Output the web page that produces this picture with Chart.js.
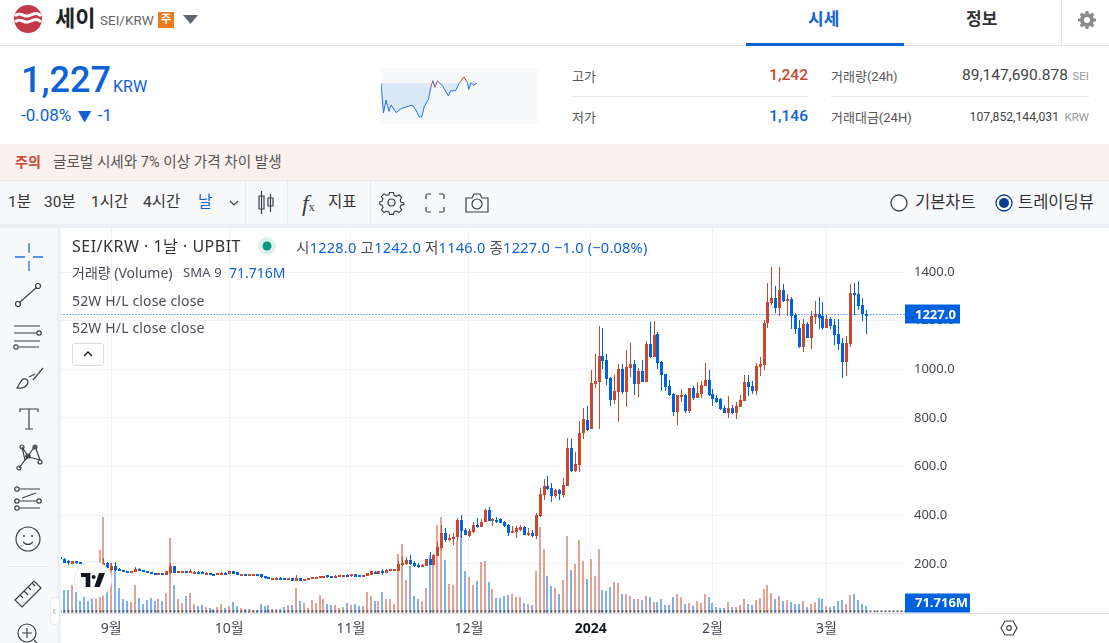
<!DOCTYPE html>
<html lang="ko">
<head>
<meta charset="utf-8">
<title>세이 SEI/KRW</title>
<script src="https://cdn.jsdelivr.net/npm/chart.js@4"></script>
<style>
    html, body { margin: 0; padding: 0; background: #fff; overflow: hidden; }
    body { width: 1109px; height: 643px; position: relative; font-family: Roboto, "Noto Sans CJK KR", sans-serif; color: #333; }
    .abs { position: absolute; white-space: nowrap; line-height: 1; }
    .band { position: absolute; }
    .mid { transform: translateY(-50%); }
    .blue { color: #0f62d6; }
    .red { color: #c8472f; }
    .grey { color: #999; }
    .tv { font-family: "Noto Sans", "Noto Sans CJK KR", sans-serif; color: #4a4d57; font-size: 14px; letter-spacing: 0.15px; }
    svg { position: absolute; overflow: visible; }
    svg .s { fill: none; stroke: #3a3f4a; stroke-width: 1.2; }
    canvas { position: absolute; }
</style>
</head>
<body>

<!-- header -->
<div class="band" style="left:0;top:45px;width:1109px;height:1px;background:#e2e4e8"></div>
<svg style="left:14px;top:5px" width="28" height="28" viewBox="0 0 28 28">
    <circle cx="14" cy="14" r="14" fill="#c2394a"/>
    <path d="M1 11c5-5 8 1 13 0s8-5 13 0M1 17c5-5 8 1 13 0s8-5 13 0" fill="none" stroke="#fff" stroke-width="3"/>
</svg>
<div class="abs mid" style="left:55px;top:19px;font-size:22px;font-weight:700;color:#222">세이</div>
<div class="abs mid" style="left:100px;top:21px;font-size:13.5px;color:#666">SEI/KRW</div>
<div class="abs" style="left:158px;top:12px;width:16px;height:16px;background:#ee7a1c;color:#fff;font-size:11px;line-height:16px;text-align:center;font-weight:700">주</div>
<svg style="left:183px;top:15px" width="16" height="10"><path d="M0 0H15L7.500 9Z" fill="#5f6470"/></svg>
<div class="abs mid blue" style="left:808px;top:19px;font-size:17px;font-weight:700">시세</div>
<div class="band" style="left:746px;top:43px;width:158px;height:3px;background:#0f62d6"></div>
<div class="abs mid" style="left:966px;top:19px;font-size:17px;font-weight:700;color:#333">정보</div>
<div class="band" style="left:1061px;top:0;width:1px;height:45px;background:#e2e4e8"></div>
<svg style="left:1078px;top:11px" width="18" height="18" viewBox="0 0 18 18">
    <circle cx="9" cy="9" r="5" fill="none" stroke="#8b8b8b" stroke-width="4"/>
    <path d="M9 0v4M9 14v4M0 9h4M14 9h4M2.600 2.600l3 3M12.400 12.400l3 3M15.400 2.600l-3 3M5.600 12.400l-3 3" stroke="#8b8b8b" stroke-width="3"/>
</svg>

<!-- price summary -->
<div class="abs mid blue" style="left:21px;top:80px;font-size:36px;font-weight:500">1,227</div>
<div class="abs mid blue" style="left:113px;top:87px;font-size:16px">KRW</div>
<div class="abs mid blue" style="left:21px;top:115px;font-size:17px;word-spacing:2px">-0.08% <span style="font-size:14px">▼</span> -1</div>

<div class="band" style="left:381px;top:68px;width:157px;height:56px;background:#f8f9fb"></div>
<canvas id="sparkChart" style="left:381px;top:68px" width="157" height="56"></canvas>

<div class="abs mid" style="left:572px;top:76px;font-size:13px;color:#555">고가</div>
<div class="abs mid red" style="right:301px;top:76px;font-size:15.5px;font-weight:500">1,242</div>
<div class="band" style="left:572px;top:96px;width:236px;height:1px;background:#e4e6ee"></div>
<div class="abs mid" style="left:572px;top:117px;font-size:13px;color:#555">저가</div>
<div class="abs mid blue" style="right:301px;top:117px;font-size:15.5px;font-weight:500">1,146</div>
<div class="abs mid" style="left:831px;top:76px;font-size:13px;color:#555">거래량(24h)</div>
<div class="abs mid" style="right:41px;top:76px;font-size:15.5px;color:#444">89,147,690.878</div>
<div class="abs mid grey" style="right:20px;top:77px;font-size:11.500px">SEI</div>
<div class="band" style="left:831px;top:96px;width:258px;height:1px;background:#e4e6ee"></div>
<div class="abs mid" style="left:831px;top:117px;font-size:13px;color:#555">거래대금(24H)</div>
<div class="abs mid" style="right:50px;top:117px;font-size:12.200px;color:#444">107,852,144,031</div>
<div class="abs mid grey" style="right:20px;top:118px;font-size:11.500px">KRW</div>

<!-- warning band -->
<div class="band" style="left:0;top:144px;width:1109px;height:36px;background:#faf0ee"></div>
<div class="abs mid red" style="left:15px;top:162px;font-size:14px;font-weight:700">주의</div>
<div class="abs mid" style="left:53px;top:162px;font-size:14.600px;color:#555">글로벌 시세와 7% 이상 가격 차이 발생</div>

<!-- toolbar -->
<div class="band" style="left:0;top:180px;width:1109px;height:44px;background:#f8f9fb;border-top:1px solid #e2e4e8;box-sizing:border-box"></div>
<div class="abs mid" style="left:8px;top:203px;font-size:15.500px">1분</div>
<div class="abs mid" style="left:44px;top:203px;font-size:15.500px">30분</div>
<div class="abs mid" style="left:91px;top:203px;font-size:15.500px">1시간</div>
<div class="abs mid" style="left:143px;top:203px;font-size:15.500px">4시간</div>
<div class="abs mid blue" style="left:198px;top:203px;font-size:15.500px">날</div>
<svg style="left:229px;top:200px" width="10" height="6"><path class="s" d="M1 1l4 4 4-4"/></svg>
<div class="band" style="left:245px;top:181px;width:1px;height:43px;background:#e8eaee"></div>
<svg style="left:258px;top:191px" width="16" height="24">
    <path class="s" d="M3.500 0v23M3.500 5h-2.500v13h5v-13zM12.500 3v18M12.500 7h-2.500v8h5v-8z" style="fill:#f8f9fb"/>
</svg>
<div class="band" style="left:287px;top:181px;width:1px;height:43px;background:#e8eaee"></div>
<div class="abs mid" style="left:302px;top:203px;font-size:24px;font-family:'Liberation Serif',serif;font-style:italic;color:#3a3f4a">f<span style="font-size:12px;font-style:normal">x</span></div>
<div class="abs mid" style="left:328px;top:203px;font-size:15.500px">지표</div>
<div class="band" style="left:370px;top:181px;width:1px;height:43px;background:#e8eaee"></div>
<svg style="left:380px;top:191px" width="23" height="23" viewBox="0 0 23 23">
    <circle class="s" cx="11.500" cy="11.500" r="3.500"/>
    <path class="s" d="M9.500 1h4l.7 3 2.400 1 2.700-1.600 2.800 2.800-1.600 2.700 1 2.400 3 .7v1.500l-3 .7-1 2.400 1.600 2.700-2.800 2.800-2.700-1.600-2.400 1-.7 2.400h-4l-.7-2.400-2.400-1-2.700 1.600-2.800-2.800 1.600-2.700-1-2.400-2.400-.7v-2.500l2.400-.7 1-2.400-1.600-2.700 2.800-2.800 2.700 1.600 2.400-1z" transform="translate(0.600 0.600) scale(0.95)"/>
</svg>
<svg style="left:426px;top:194px" width="18" height="18"><path class="s" d="M0 5V1.500Q0 0 1.500 0H5M13 0h3.500Q18 0 18 1.500V5M18 13v3.500Q18 18 16.500 18H13M5 18H1.500Q0 18 0 16.500V13"/></svg>
<svg style="left:465px;top:193px" width="24" height="20"><path class="s" d="M1 5h6l2-4h6l2 4h6v14h-22z"/><circle class="s" cx="12" cy="11" r="5"/></svg>
<svg style="left:890px;top:194px" width="18" height="18"><circle cx="9" cy="9" r="8" fill="#fff" stroke="#3a3f4a" stroke-width="1.300"/></svg>
<div class="abs mid" style="left:915px;top:203px;font-size:16.500px">기본차트</div>
<svg style="left:995px;top:194px" width="18" height="18"><circle cx="9" cy="9" r="8" fill="#fff" stroke="#0a3a94" stroke-width="1.300"/><circle cx="9" cy="9" r="5" fill="#0a3a94"/></svg>
<div class="abs mid" style="left:1018px;top:203px;font-size:16.500px">트레이딩뷰</div>
<div class="band" style="left:0;top:224px;width:1109px;height:4px;background:#eceff4"></div>

<!-- drawing tools on the left -->
<div class="band" style="left:0;top:228px;width:57px;height:415px;background:#f8f9fb"></div>
<div class="band" style="left:57px;top:228px;width:4px;height:415px;background:#eceff4"></div>
<svg style="left:15px;top:243px" width="28" height="28"><path d="M14 0v10M14 18v10M0 14h10M18 14h10" stroke="#1a73e8" stroke-width="1.300"/></svg>
<svg style="left:14px;top:282px" width="28" height="26"><path class="s" d="M5 21L23 5"/><circle class="s" cx="4" cy="22" r="2.500"/><circle class="s" cx="24" cy="4" r="2.500"/></svg>
<svg style="left:13px;top:325px" width="30" height="24"><path class="s" d="M1 1h26M1 8h22M1 16h26M6 22h20"/><circle class="s" cx="26" cy="8" r="2.200"/><circle class="s" cx="3" cy="22" r="2.200"/></svg>
<svg style="left:15px;top:366px" width="30" height="24"><path class="s" d="M2 22c6 1 11-2 11-6 0-3-4-4-6-2-2 2-3 5-5 8zM14 11l6-3M18 14l10-12"/></svg>
<svg style="left:19px;top:408px" width="20" height="22"><path class="s" d="M1 4V1h18v3M10 1v20M6 21h8"/></svg>
<svg style="left:16px;top:444px" width="26" height="27"><path class="s" d="M6 3l3 13-6 8M6 3l6 9 7-10 5 14-15-4M9 16l5-5"/><circle class="s" cx="6" cy="3" r="2"/><circle class="s" cx="19" cy="3" r="2"/><circle class="s" cx="12" cy="12" r="2"/><circle class="s" cx="3" cy="24" r="2"/><circle class="s" cx="24" cy="18" r="2"/></svg>
<svg style="left:14px;top:487px" width="28" height="24"><path class="s" d="M6 2h20M6 14h16M6 21h20M8 11l14-5" /><circle class="s" cx="3" cy="2" r="2.200"/><circle class="s" cx="3" cy="14" r="2.200"/><circle class="s" cx="25" cy="14" r="2.200"/><circle class="s" cx="3" cy="21" r="2.200"/></svg>
<svg style="left:15px;top:526px" width="26" height="26"><circle class="s" cx="13" cy="13" r="12"/><circle cx="9" cy="10" r="1" fill="#3a3f4a"/><circle cx="17" cy="10" r="1" fill="#3a3f4a"/><path class="s" d="M8 16q5 5 10 0"/></svg>
<div class="band" style="left:8px;top:566px;width:40px;height:1px;background:#e4e6ea"></div>
<svg style="left:14px;top:580px" width="28" height="28"><path class="s" d="M1 20L20 1l7 7-19 19zM6 15l3 3M10 11l4 4M14 7l3 3M18 3l3 3"/></svg>
<svg style="left:17px;top:623px" width="26" height="26"><circle class="s" cx="10" cy="10" r="9"/><path class="s" d="M10 5v10M5 10h10M17 17l7 7"/></svg>

<!-- chart -->
<canvas id="priceChart" style="left:61px;top:228px" width="1048" height="415"></canvas>
<div class="band" style="left:61px;top:613px;width:1048px;height:1px;background:#e0e3eb"></div>
<svg style="left:1001px;top:620px" width="16" height="16"><path class="s" d="M4 1h8l4 7-4 7h-8l-4-7z"/><circle class="s" cx="8" cy="8" r="2.300"/></svg>
<div class="band" style="left:50px;top:597px;width:10px;height:28px;background:#fff;border:1px solid #e8eaee;border-radius:4px;box-sizing:border-box"></div>
<div class="abs mid" style="left:52px;top:611px;font-size:12px;color:#9aa">‹</div>

<!-- chart legend -->
<div class="abs mid tv" style="left:72px;top:246px;font-size:16px;color:#333;letter-spacing:0.5px">SEI/KRW · 1날 · UPBIT</div>
<svg style="left:258px;top:237px" width="18" height="18"><circle cx="9" cy="9" r="9" fill="#dff1ec"/><circle cx="9" cy="9" r="4.500" fill="#089981"/></svg>
<div class="abs mid tv" style="left:296px;top:247px;font-size:14.600px;letter-spacing:0.2px">시<span class="blue">1228.0</span> 고<span class="blue">1242.0</span> 저<span class="blue">1146.0</span> 종<span class="blue">1227.0</span> <span class="blue">−1.0 (−0.08%)</span></div>
<div class="abs mid tv" style="left:72px;top:273px;letter-spacing:0">거래량 (Volume)</div>
<div class="abs mid tv" style="left:183px;top:272px;font-size:13px">SMA 9</div>
<div class="abs mid tv blue" style="left:229px;top:273px;color:#0f62d6;letter-spacing:0">71.716M</div>
<div class="abs mid tv" style="left:72px;top:301px">52W H/L close close</div>
<div class="abs mid tv" style="left:72px;top:328px">52W H/L close close</div>
<div class="band" style="left:72px;top:343px;width:32px;height:23px;background:#fff;border:1px solid #d9dce3;border-radius:3px;box-sizing:border-box"></div>
<svg style="left:83px;top:351px" width="10" height="7"><path d="M1 5l4-4 4 4" fill="none" stroke="#222" stroke-width="1.500"/></svg>

<!-- tradingview badge -->
<div class="band" style="left:74px;top:561px;width:38px;height:38px;border-radius:50%;background:#fff;border:1px solid #e6e8ee;box-sizing:border-box"></div>
<svg style="left:81px;top:573px" width="24" height="14" viewBox="0 0 36 21"><path d="M14 0H0v6h7v15h7zM28 21h-8l7-21h9zM22 6a3 3 0 1 1-6 0 3 3 0 0 1 6 0z" fill="#131722"/></svg>

<script>
// ==========================================
// DATA
// ==========================================
// x index 0 = 19 Aug 2023, one candle per day
const monthTicks = [13, 43, 74, 104, 135, 166, 195];
const monthLabels = ['9월', '10월', '11월', '12월', '2024', '2월', '3월'];
const priceTicks = [200, 400, 600, 800, 1000, 1200, 1400];

const opens = [
    227,222,214,201,212,209,200,195,190,185,
    190,195,204,175,193,181,175,171,168,168,
    181,175,172,167,162,156,163,156,162,192,
    164,165,170,165,165,168,168,156,163,159,
    157,159,164,160,171,166,156,159,156,157,
    159,157,150,145,140,141,144,141,140,141,
    130,142,130,135,138,140,144,144,153,150,
    145,150,153,155,149,157,155,148,152,156,
    168,160,171,164,171,172,172,194,201,216,
    205,196,189,192,220,196,234,264,327,298,
    303,311,381,341,315,331,360,353,372,422,
    378,382,385,372,360,327,331,341,352,319,
    329,315,397,484,521,513,480,504,484,521,
    677,583,607,739,792,755,940,948,1055,1039,
    965,874,907,1002,907,1006,1022,940,993,948,
    1105,1051,1146,1030,981,932,899,825,891,895,
    829,924,883,899,932,956,899,882,878,841,
    821,842,821,846,870,948,932,911,1010,1018,
    1191,1273,1294,1253,1327,1281,1290,1224,1170,1092,
    1187,1129,1216,1228,1220,1170,1207,1183,1146,1109,
    1031,1105,1314,1310,1265,1228
];
const closes = [
    222,203,203,212,203,201,195,190,185,190,
    195,205,182,193,175,173,170,168,172,181,
    173,170,164,159,156,163,156,170,192,163,
    170,169,165,170,168,163,162,164,156,156,
    161,164,160,171,160,156,159,156,159,159,
    157,145,141,140,141,144,140,140,142,130,
    142,130,138,141,145,147,149,150,145,144,
    152,153,154,150,157,148,148,155,161,170,
    159,171,164,177,178,178,200,205,218,201,
    193,189,197,220,196,237,270,326,298,307,
    311,381,337,320,335,360,352,374,422,377,
    385,380,370,357,327,335,348,352,319,327,
    316,401,486,521,508,480,504,488,525,677,
    583,611,739,796,751,944,952,1055,1035,961,
    874,911,1002,907,1010,1022,940,993,948,1105,
    1051,1141,1026,977,928,895,825,895,895,829,
    924,883,903,936,956,895,878,866,837,821,
    842,821,850,874,948,928,911,1014,1022,1191,
    1277,1294,1253,1327,1281,1290,1220,1166,1092,1187,
    1129,1220,1228,1212,1170,1207,1178,1142,1105,1031,
    1109,1314,1306,1261,1228,1227
];
const highs = [
    228,223,216,214,213,210,201,196,191,191,
    196,224,206,203,209,183,176,172,173,189,
    184,176,173,168,163,164,164,172,205,193,
    172,171,172,178,170,169,169,165,164,160,
    162,165,165,173,172,167,160,160,160,160,
    160,158,151,146,142,145,145,142,143,142,
    155,143,139,142,146,148,150,152,154,151,
    153,154,155,157,158,158,156,156,162,172,
    169,172,178,178,180,179,212,233,230,235,
    212,203,199,222,249,240,292,360,346,323,
    326,388,401,349,345,374,388,385,426,434,
    389,392,388,375,364,356,356,360,354,346,
    340,408,513,549,562,533,508,508,554,718,
    714,661,788,841,850,998,1063,1179,1170,1063,
    969,977,1022,1022,1080,1109,1039,1006,1039,1117,
    1195,1199,1154,1035,981,956,903,895,920,899,
    924,932,948,952,1026,998,920,895,882,854,
    891,854,866,895,977,977,952,1026,1051,1203,
    1355,1421,1343,1421,1351,1310,1298,1232,1203,1207,
    1195,1240,1281,1298,1277,1224,1216,1207,1207,1129,
    1138,1351,1355,1363,1293,1242
];
const lows = [
    221,202,197,199,201,200,194,189,184,184,
    189,188,180,172,173,172,169,167,167,167,
    172,169,163,158,155,155,155,155,160,162,
    163,164,164,164,164,162,161,155,155,155,
    156,158,159,159,159,155,155,155,155,156,
    156,144,140,139,139,140,139,139,139,129,
    129,129,129,134,137,139,143,143,144,143,
    144,149,152,149,148,147,147,147,151,155,
    158,159,156,163,170,171,171,190,194,196,
    189,183,188,190,194,194,233,257,292,294,
    278,296,305,318,312,326,349,352,371,375,
    357,370,367,352,316,326,307,337,318,316,
    312,303,392,463,504,455,471,463,476,521,
    578,578,578,714,747,755,924,755,1002,936,
    850,858,784,900,845,969,895,887,948,948,
    1047,1051,1002,911,911,891,808,771,866,821,
    821,874,883,883,932,891,850,862,833,820,
    800,817,796,846,870,891,899,895,973,998,
    1170,1265,1232,1220,1277,1220,1166,1146,1088,1072,
    1129,1084,1187,1166,1162,1170,1166,1100,1080,965,
    973,1092,1224,1244,1199,1146
];
// volume, in millions
const volumes = [
    210,163,163,198,149,86,112,86,100,98,
    443,671,210,350,303,177,100,86,79,198,
    107,61,93,103,86,100,86,142,527,198,
    100,72,121,142,65,51,58,44,37,30,
    44,65,37,51,79,51,37,30,30,23,
    23,65,51,58,30,30,30,44,58,58,
    177,86,72,37,93,72,128,100,65,58,
    54,37,44,72,58,65,51,51,149,121,
    86,86,149,100,100,65,415,485,233,331,
    121,100,86,177,408,352,617,673,373,205,
    198,501,650,296,254,198,226,359,366,219,
    170,107,107,121,128,135,114,114,72,65,
    58,296,603,450,261,191,177,135,233,541,
    303,345,513,366,240,380,261,450,163,156,
    184,219,212,135,135,121,100,100,93,121,
    114,79,79,100,58,58,114,135,114,65,
    72,51,86,72,135,114,72,44,37,37,
    79,44,44,58,100,65,58,93,107,170,
    198,142,100,121,86,93,79,65,65,86,
    44,65,79,107,100,51,44,51,86,93,
    65,128,135,93,65,51
];

const lastPrice = 1227;
const lastPriceLabel = '1227.0';
const volumeSma = 71.716;
const volumeSmaLabel = '71.716M';
const markerLevel = 12;
const markerEnd = 215;
const boldTick = 135;

// 24h sparkline in the summary box
const sparkMinutes = [0,23,46,73,92,139,188,238,287,320,353,376,396,436,459,475,495,518,568,617,640,683,716,759,792,805,825,848,881];
const sparkPrices = [1226,1156,1187,1160,1175,1157,1167,1171,1175,1163,1146,1148,1171,1189,1219,1233,1217,1233,1219,1197,1209,1209,1226,1242,1229,1212,1228,1222,1227];
const sparkBase = 1228;

// ==========================================
// COLOURS
// ==========================================
const upColor = '#c8472f';
const downColor = '#0062df';
const upVolume = '#e3a296';
const downVolume = '#7fb0f0';
const gridColor = '#f0f2f6';
const tagColor = '#0062df';

const isUp = i => closes[i] >= opens[i];
const candleColors = opens.map((_, i) => isUp(i) ? upColor : downColor);
const volumeColors = opens.map((_, i) => isUp(i) ? upVolume : downVolume);

// ==========================================
// MAIN CHART
// ==========================================
Chart.defaults.font.family = '"Noto Sans", "Noto Sans CJK KR", sans-serif';

// chart.js leaves room for half a label at each end, the plot has to fill the canvas here
function noScalePadding(axis) {
    axis.paddingLeft = axis.paddingRight = axis.paddingTop = axis.paddingBottom = 0;
}

// snap bars and dots to whole pixels so they stay crisp like the original
const crispBars = {
    id: 'crispBars',
    beforeDatasetsDraw(chart) {
        chart.data.datasets.forEach((ds, d) => {
            const half = ds.barThickness === 2 ? 0 : 0.5;
            const minBody = ds.barThickness === 3 ? 2 : 1;
            chart.getDatasetMeta(d).data.forEach(el => {
                el.x = Math.round(el.x) + half;
                if (ds.barThickness) {
                    el.y = Math.round(el.y);
                    el.base = Math.round(el.base);
                    if (Math.abs(el.base - el.y) < minBody) el.base = el.y + minBody;
                } else if (ds.borderDash) {
                    el.y = Math.round(el.y) + 0.5;
                }
            });
        });
    }
};

// draws the blue value tags over the right axis
const priceTags = {
    id: 'priceTags',
    afterDraw(chart) {
        const { ctx, chartArea, scales } = chart;
        const tags = [
            { y: scales.y.getPixelForValue(lastPrice), text: lastPriceLabel, w: 55 },
            { y: scales.vol.getPixelForValue(volumeSma), text: volumeSmaLabel, w: 65 }
        ];
        ctx.save();
        ctx.font = '700 13px "Noto Sans", sans-serif';
        ctx.textBaseline = 'middle';
        tags.forEach(tag => {
            ctx.fillStyle = tagColor;
            ctx.fillRect(chartArea.right, Math.round(tag.y) - 9.5, tag.w, 19);
            ctx.fillStyle = '#fff';
            ctx.fillText(tag.text, chartArea.right + 10, tag.y + 1);
        });
        ctx.restore();
    }
};

new Chart(document.getElementById('priceChart'), {
    type: 'bar',
    data: {
        datasets: [
            {
                label: 'close line',
                type: 'line',
                data: [{ x: 0, y: lastPrice }, { x: markerEnd, y: lastPrice }],
                borderColor: tagColor,
                borderWidth: 1,
                borderDash: [1, 2],
                pointRadius: 0,
                yAxisID: 'y',
                order: 1
            },
            {
                label: 'body',
                data: opens.map((o, i) => ({ x: i, y: [o, closes[i]] })),
                backgroundColor: candleColors,
                barThickness: 3,
                inflateAmount: 0,
                grouped: false,
                yAxisID: 'y',
                order: 2
            },
            {
                label: 'wick',
                data: lows.map((l, i) => ({ x: i, y: [l, highs[i]] })),
                backgroundColor: candleColors,
                barThickness: 1,
                inflateAmount: 0,
                grouped: false,
                yAxisID: 'y',
                order: 3
            },
            {
                label: '52W H/L',
                type: 'line',
                data: Array.from({ length: markerEnd + 1 }, (_, i) => ({ x: i, y: markerLevel })),
                showLine: false,
                pointStyle: 'rect',
                pointRadius: 1.4,
                pointBackgroundColor: 'rgba(70,70,80,0.85)',
                pointBorderWidth: 0,
                yAxisID: 'vol',
                order: 4
            },
            {
                label: 'volume',
                data: volumes.map((v, i) => ({ x: i, y: v })),
                backgroundColor: volumeColors,
                barThickness: 2,
                inflateAmount: 0,
                grouped: false,
                yAxisID: 'vol',
                order: 5
            }
        ]
    },
    options: {
        responsive: false,
        animation: false,
        layout: { padding: 0, autoPadding: false },
        plugins: { legend: { display: false }, tooltip: { enabled: false } },
        scales: {
            x: {
                type: 'linear',
                min: 0.2,
                max: markerEnd,
                offset: false,
                grid: { color: gridColor, offset: false, drawTicks: false },
                border: { display: false },
                afterBuildTicks: axis => { axis.ticks = monthTicks.map(value => ({ value })); },
                afterFit: axis => { axis.height = 30; noScalePadding(axis); },
                ticks: {
                    autoSkip: false,
                    maxRotation: 0,
                    padding: 8,
                    color: ctx => ctx.tick && ctx.tick.value === boldTick ? '#131722' : '#434651',
                    font: ctx => ({ size: 14, weight: ctx.tick && ctx.tick.value === boldTick ? '700' : '400' }),
                    callback: value => monthLabels[monthTicks.indexOf(value)]
                }
            },
            y: {
                position: 'right',
                min: -1.600,
                max: 1581,
                grid: { color: gridColor, drawTicks: false },
                border: { display: false },
                afterBuildTicks: axis => { axis.ticks = priceTicks.map(value => ({ value })); },
                afterFit: axis => { axis.width = 204; noScalePadding(axis); },
                ticks: {
                    padding: 9,
                    color: '#434651',
                    font: { size: 13 },
                    callback: value => value.toFixed(1)
                }
            },
            vol: {
                display: false,
                min: 0,
                max: 2695
            }
        }
    },
    plugins: [crispBars, priceTags]
});

// ==========================================
// SPARKLINE
// ==========================================
new Chart(document.getElementById('sparkChart'), {
    type: 'line',
    data: {
        datasets: [{
            data: sparkMinutes.map((m, i) => ({ x: m, y: sparkPrices[i] })),
            borderWidth: 1,
            borderColor: '#1a73e8',
            pointRadius: 0,
            segment: { borderColor: ctx => ctx.p1.parsed.y > sparkBase ? upColor : '#1a73e8' },
            fill: { target: { value: sparkBase }, above: 'rgba(0,0,0,0)', below: '#dbe8f6' }
        }]
    },
    options: {
        responsive: false,
        animation: false,
        layout: { padding: 0, autoPadding: false },
        plugins: { legend: { display: false }, tooltip: { enabled: false } },
        scales: {
            x: { type: 'linear', display: false, min: 0, max: 1440 },
            y: { display: false, min: 1130, max: 1263 }
        }
    }
});
</script>
</body>
</html>
